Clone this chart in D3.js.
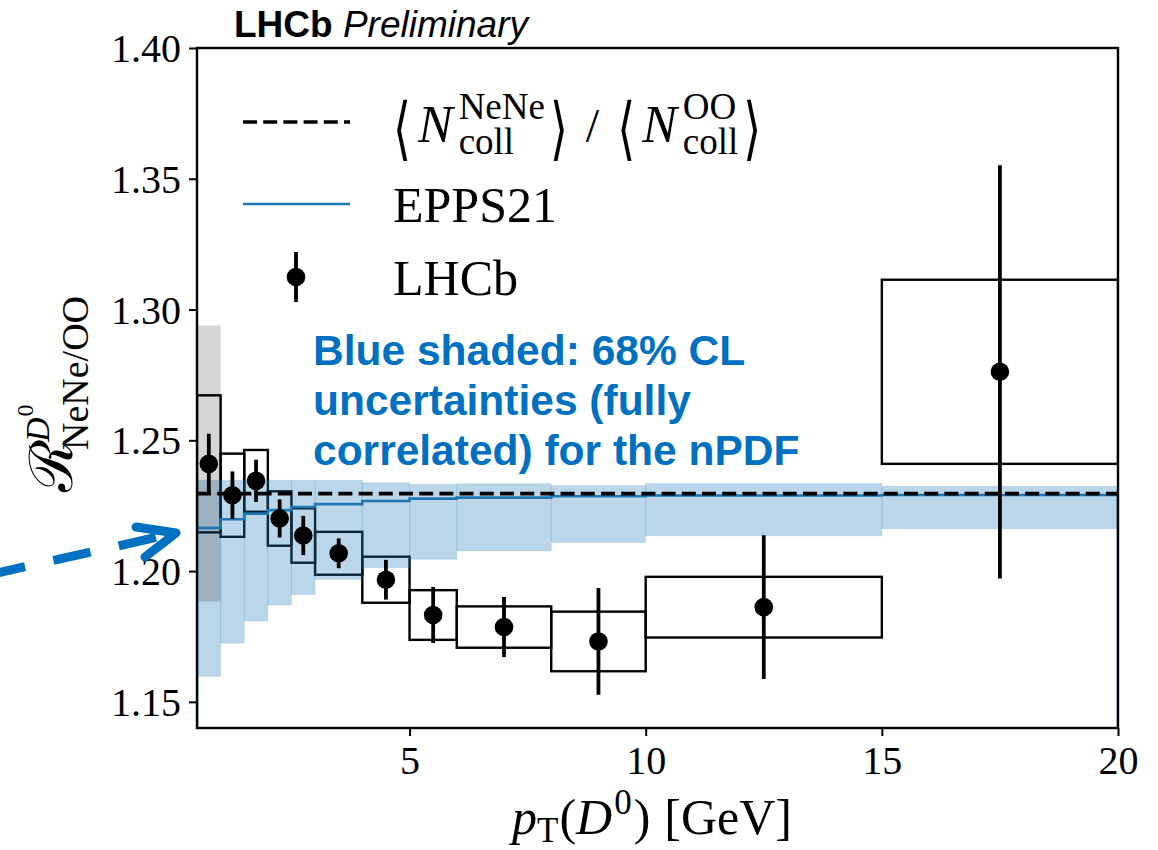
<!DOCTYPE html>
<html>
  <head>
    <meta charset="utf-8">
    <title>R NeNe/OO D0</title>
    <script type="text/javascript" src="https://d3js.org/d3.v7.min.js"></script>
    <style>
      body { margin: 0; background: #fff; }
    </style>
  </head>
  <body>
    <svg width="1158" height="850" font-family="Liberation Serif"></svg>
    <script>
    // pT bins [GeV]
    var binLo = [0.5, 1, 1.5, 2, 2.5, 3, 4, 5, 6, 8, 10, 15];
    var binHi = [1, 1.5, 2, 2.5, 3, 4, 5, 6, 8, 10, 15, 20];
    var ptCenter = [0.75, 1.25, 1.75, 2.25, 2.75, 3.5, 4.5, 5.5, 7, 9, 12.5, 17.5];
    // LHCb data
    var ratio = [1.2410, 1.2290, 1.2345, 1.2201, 1.2136, 1.2068, 1.1967, 1.1832, 1.1786, 1.1731, 1.1862, 1.2762];
    var statErr = [0.0115, 0.0091, 0.0081, 0.0073, 0.0075, 0.0057, 0.0076, 0.0107, 0.0115, 0.0204, 0.0275, 0.0790];
    var systErr = [0.0262, 0.0159, 0.0118, 0.0104, 0.0104, 0.0082, 0.0088, 0.0095, 0.0079, 0.0114, 0.0116, 0.0352];
    // EPPS21 central + 68% CL band
    var epps = [1.2165, 1.2198, 1.2219, 1.2233, 1.2245, 1.2256, 1.2268, 1.2277, 1.2281, 1.2286, 1.2289, 1.2291];
    var eppsLo = [1.1597, 1.1724, 1.1809, 1.1870, 1.1910, 1.1968, 1.2013, 1.2045, 1.2077, 1.2109, 1.2135, 1.2162];
    var eppsHi = [1.2347, 1.2347, 1.2350, 1.2347, 1.2347, 1.2347, 1.2338, 1.2332, 1.2334, 1.2327, 1.2335, 1.2324];
    // <Ncoll> ratio
    var ncollRatio = 1.2296;
    // normalisation band (first bin)
    var normLo = 1.1883, normHi = 1.2939;
    var yTicks = [1.15, 1.20, 1.25, 1.30, 1.35, 1.40];
    var xTicks = [5, 10, 15, 20];
    var note = ["Blue shaded: 68% CL", "uncertainties (fully", "correlated) for the nPDF"];

    var svg = d3.select("svg");
    var blue = "#1f77b4", noteBlue = "#0070c0";
    var mL = 197, mR = 1118, mT = 48, mB = 728;

    var x = d3.scaleLinear().domain([0.5, 20]).range([mL, mR]);
    var y = d3.scaleLinear().domain([1.14, 1.40]).range([mB, mT]);

    var bins = binLo.map(function(d, i){
      return {lo: d, hi: binHi[i], c: ptCenter[i], v: ratio[i], st: statErr[i], sy: systErr[i],
              e: epps[i], elo: eppsLo[i], ehi: eppsHi[i]};
    });

    var plot = svg.append("g");
    plot.append("clipPath").attr("id", "clip").append("rect")
      .attr("x", mL).attr("y", mT).attr("width", mR - mL).attr("height", mB - mT);
    var g = plot.append("g").attr("clip-path", "url(#clip)");

    // syst boxes
    g.append("g").selectAll("rect").data(bins).enter().append("rect")
      .attr("x", function(d){ return x(d.lo); })
      .attr("width", function(d){ return x(d.hi) - x(d.lo); })
      .attr("y", function(d){ return y(d.v + d.sy); })
      .attr("height", function(d){ return y(d.v - d.sy) - y(d.v + d.sy); })
      .attr("fill", "none").attr("stroke", "#000").attr("stroke-width", 2.4);

    // EPPS21 band
    g.append("g").selectAll("rect").data(bins).enter().append("rect")
      .attr("x", function(d){ return x(d.lo); })
      .attr("width", function(d){ return x(d.hi) - x(d.lo); })
      .attr("y", function(d){ return y(d.ehi); })
      .attr("height", function(d){ return y(d.elo) - y(d.ehi); })
      .attr("fill", blue).attr("fill-opacity", 0.3)
      .attr("stroke", blue).attr("stroke-opacity", 0.12).attr("stroke-width", 1);

    // normalisation band
    g.append("rect")
      .attr("x", x(binLo[0])).attr("width", x(binHi[0]) - x(binLo[0]))
      .attr("y", y(normHi)).attr("height", y(normLo) - y(normHi))
      .attr("fill", "#000").attr("fill-opacity", 0.165);

    // EPPS21 central (stairs)
    var p = d3.path();
    p.moveTo(x(binLo[0]), mB + 5);
    bins.forEach(function(d){
      p.lineTo(x(d.lo), y(d.e));
      p.lineTo(x(d.hi), y(d.e));
    });
    p.lineTo(x(binHi[binHi.length - 1]), mB + 5);
    g.append("path").attr("d", p.toString())
      .attr("fill", "none").attr("stroke", blue).attr("stroke-width", 2.6);

    // Ncoll ratio
    g.append("line")
      .attr("x1", mL).attr("x2", mR)
      .attr("y1", y(ncollRatio)).attr("y2", y(ncollRatio))
      .attr("stroke", "#000").attr("stroke-width", 3.6).attr("stroke-dasharray", "14,6.2");

    // stat error bars + points
    g.append("g").selectAll("line").data(bins).enter().append("line")
      .attr("x1", function(d){ return x(d.c); }).attr("x2", function(d){ return x(d.c); })
      .attr("y1", function(d){ return y(d.v + d.st); })
      .attr("y2", function(d){ return y(d.v - d.st); })
      .attr("stroke", "#000").attr("stroke-width", 3.8);
    g.append("g").selectAll("circle").data(bins).enter().append("circle")
      .attr("cx", function(d){ return x(d.c); })
      .attr("cy", function(d){ return y(d.v); })
      .attr("r", 9.3).attr("fill", "#000");

    // axes
    var yAxis = d3.axisLeft(y).tickValues(yTicks).tickSize(8).tickPadding(8)
      .tickFormat(d3.format(".2f"));
    var xAxis = d3.axisBottom(x).tickValues(xTicks).tickSize(8).tickPadding(10)
      .tickFormat(d3.format("d"));
    var ya = svg.append("g").attr("transform", "translate(" + mL + ",0)").call(yAxis);
    var xa = svg.append("g").attr("transform", "translate(0," + mB + ")").call(xAxis);
    [ya, xa].forEach(function(a){
      a.select(".domain").remove();
      a.selectAll("line").attr("stroke", "#000").attr("stroke-width", 2);
      a.selectAll("text").attr("font-family", "Liberation Serif").attr("font-size", 40).attr("fill", "#000");
    });
    ya.selectAll("text").attr("dy", "0.34em");
    svg.append("rect")
      .attr("x", mL).attr("y", mT).attr("width", mR - mL).attr("height", mB - mT)
      .attr("fill", "none").attr("stroke", "#000").attr("stroke-width", 2.4);

    // helper: lay out a run of text pieces, stacked sup/sub allowed
    function mathRun(parent, x0, base, items){
      var cx = x0;
      items.forEach(function(it){
        var t;
        if (it.stack){
          var w = 0;
          it.stack.forEach(function(s){
            var ts = parent.append("text").attr("x", cx).attr("y", base + s.dy)
              .attr("font-size", s.fs).attr("font-style", s.it ? "italic" : "normal")
              .text(s.t);
            w = Math.max(w, ts.node().getComputedTextLength());
          });
          cx += w + (it.gap || 0);
          return;
        }
        if (it.sy){
          // tall delimiter: stretched vertically
          t = parent.append("text")
            .attr("transform", "translate(" + cx + "," + (base + (it.dy || 0)) + ") scale(1," + it.sy + ")")
            .attr("font-size", it.fs).attr("font-family", it.ff || null)
            .text(it.t);
        } else {
          t = parent.append("text").attr("x", cx).attr("y", base + (it.dy || 0))
            .attr("font-size", it.fs).attr("font-style", it.it ? "italic" : "normal")
            .attr("font-family", it.ff || null)
            .text(it.t);
        }
        cx += t.node().getComputedTextLength() + (it.gap || 0);
      });
      return cx;
    }

    // legend
    var leg = svg.append("g");
    leg.append("line").attr("x1", 243).attr("x2", 350).attr("y1", 122).attr("y2", 122)
      .attr("stroke", "#000").attr("stroke-width", 3.6).attr("stroke-dasharray", "14,6.2");
    leg.append("line").attr("x1", 243).attr("x2", 350).attr("y1", 204).attr("y2", 204)
      .attr("stroke", blue).attr("stroke-width", 2.6);
    leg.append("line").attr("x1", 296).attr("x2", 296).attr("y1", 252).attr("y2", 302)
      .attr("stroke", "#000").attr("stroke-width", 3.8);
    leg.append("circle").attr("cx", 296).attr("cy", 277).attr("r", 9.3).attr("fill", "#000");

    var br = {fs: 46, ff: "DejaVu Sans", sy: 1.5, dy: 10};
    function bracket(t, gap){ return {t: t, fs: br.fs, ff: br.ff, sy: br.sy, dy: br.dy, gap: gap}; }
    mathRun(leg, 393, 142, [
      bracket("\u27E8", 7),
      {t: "N", fs: 52, it: true, gap: 6},
      {stack: [{t: "NeNe", fs: 37, dy: -23}, {t: "coll", fs: 37, dy: 12}], gap: 5},
      bracket("\u27E9", 18),
      {t: "/", fs: 48, gap: 18},
      bracket("\u27E8", 7),
      {t: "N", fs: 52, it: true, gap: 6},
      {stack: [{t: "OO", fs: 37, dy: -23}, {t: "coll", fs: 37, dy: 12}], gap: 5},
      bracket("\u27E9", 0)
    ]);
    mathRun(leg, 393, 222, [{t: "EPPS21", fs: 50}]);
    mathRun(leg, 393, 295, [{t: "LHCb", fs: 50}]);

    // title
    var title = svg.append("text").attr("x", 234).attr("y", 37)
      .attr("font-family", "Liberation Sans").attr("font-size", 37).attr("fill", "#000");
    title.append("tspan").attr("font-weight", "bold").text("LHCb");
    title.append("tspan").attr("font-style", "italic").text(" Preliminary");

    // annotation
    var ann = svg.append("text").attr("font-family", "Liberation Sans").attr("font-weight", "bold")
      .attr("font-size", 42.5).attr("fill", noteBlue);
    note.forEach(function(s, i){
      ann.append("tspan").attr("x", 313).attr("y", 365 + i * 50).text(s);
    });

    // arrow
    var ax1 = 176, ay1 = 533;
    svg.append("line").attr("x1", -12).attr("y1", 575).attr("x2", 158).attr("y2", 537)
      .attr("stroke", noteBlue).attr("stroke-width", 9).attr("stroke-dasharray", "38,29");
    svg.append("path")
      .attr("d", "M136,527 L" + ax1 + "," + ay1 + " L145,557")
      .attr("fill", "none").attr("stroke", noteBlue).attr("stroke-width", 9)
      .attr("stroke-linecap", "round").attr("stroke-linejoin", "round");

    // x label
    var xl = svg.append("g");
    var xw = mathRun(xl, 0, 834, [
      {t: "p", fs: 50, it: true},
      {t: "T", fs: 35, dy: 8, gap: 1},
      {t: "(", fs: 50},
      {t: "D", fs: 50, it: true, gap: 2},
      {t: "0", fs: 35, dy: -20, gap: 2},
      {t: ")", fs: 50, gap: 14},
      {t: "[GeV]", fs: 50}
    ]);
    xl.attr("transform", "translate(" + (652 - xw / 2) + ",0)");

    // y label (rotated)
    var yl = svg.append("g").attr("transform", "translate(72,492) rotate(-90)");
    mathRun(yl, 0, 0, [
      {t: "\u211B", fs: 60, ff: "DejaVu Serif", gap: -10},
      {stack: [{t: "NeNe/OO", fs: 38, dy: 16}]}
    ]);
    mathRun(yl, 50, -23, [
      {t: "D", fs: 34, it: true, gap: 1},
      {t: "0", fs: 24, dy: -16}
    ]);
    </script>
  </body>
</html>
